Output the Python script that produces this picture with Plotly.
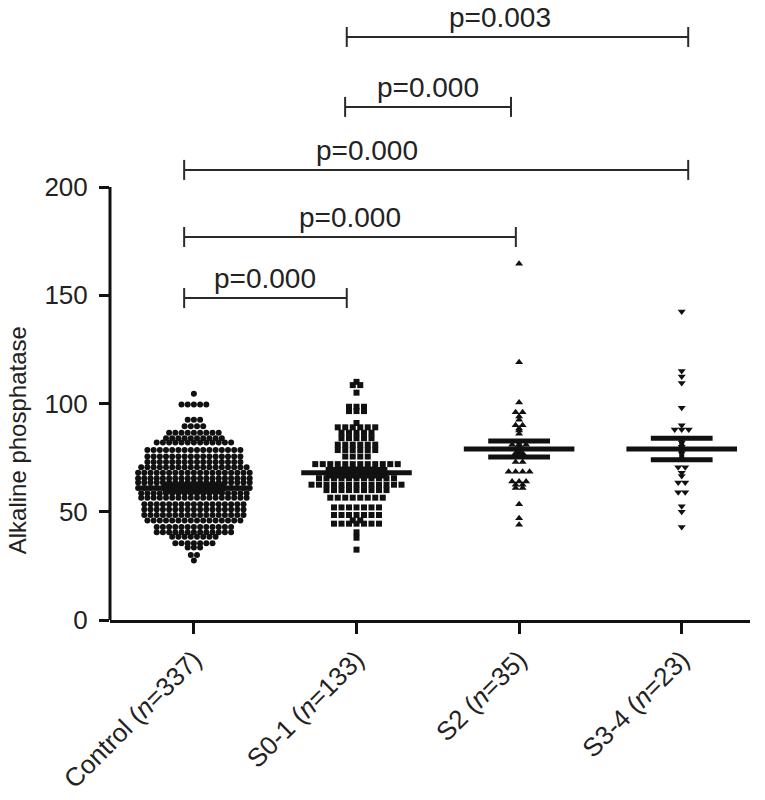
import plotly.graph_objects as go

# ---------------- data ----------------
categories = ["Control", "S0-1", "S2", "S3-4"]
tick_labels = ["Control (<i>n</i>=337)", "S0-1 (<i>n</i>=133)",
               "S2 (<i>n</i>=35)", "S3-4 (<i>n</i>=23)"]

# each group: value levels and how many points sit at that level
control_values = [104.5, 99.5, 92.5, 89.5, 86.5, 84, 82, 78.5, 75.5, 73, 70.5, 68, 65.5,
                  63.5, 61, 58.5, 56.5, 53.5, 51, 48.5, 46, 43, 40.5, 38.5, 35.5, 33.5, 30, 27.5]
control_counts = [1, 5, 3, 4, 9, 10, 13, 16, 16, 16, 18, 19, 19,
                  19, 19, 18, 18, 17, 17, 17, 16, 13, 13, 8, 7, 3, 2, 1]

s01_values = [110, 108.5, 105, 98.5, 96.5, 91, 89, 86.5, 84, 81, 78.5, 75.5, 72, 69.5, 67.5,
              65.5, 62.5, 60, 56.5, 52, 48.5, 46, 44.5, 40.5, 38, 32.5]
s01_counts = [1, 2, 1, 3, 3, 1, 6, 5, 5, 6, 6, 4, 12, 5, 6,
              11, 13, 9, 8, 7, 7, 2, 7, 1, 1, 1]

s2_values = [164.5, 119, 100.5, 96, 94, 92.5, 90, 88.5, 87.5, 86, 81, 79, 77, 73, 68.5,
             64, 62.5, 61, 53.5, 47, 44]
s2_counts = [1, 1, 1, 2, 1, 1, 2, 1, 1, 1, 3, 2, 2, 2, 4,
             3, 2, 2, 1, 1, 1]

s34_values = [142.5, 115, 112.5, 109.5, 98, 90, 88, 82, 80, 77, 70.5, 68, 66.5, 63.5, 59,
              52.5, 50, 43]
s34_counts = [1, 1, 1, 1, 1, 1, 3, 1, 1, 1, 2, 1, 1, 2, 2,
              1, 1, 1]

means = [61, 68, 79, 79]
ci_low = [59.5, 66.5, 75.3, 74]
ci_high = [62.5, 69.5, 82.7, 84]

# comparison brackets
bracket_x0 = [-0.06, -0.06, -0.06, 0.93, 0.94]
bracket_x1 = [0.94, 1.98, 3.04, 1.95, 3.04]
bracket_y = [148.7, 176.9, 207.9, 237, 269.3]
bracket_text_x = [0.44, 0.96, 1.065, 1.44, 1.88]
bracket_labels = ["p=0.000", "p=0.000", "p=0.000", "p=0.000", "p=0.003"]

# ---------------- layout helpers ----------------
FIG_W, FIG_H = 765, 800
M_L, M_R, M_T, M_B = 110, 15, 8, 180
X_RANGE = [-0.516, 3.42]
PLOT_W = FIG_W - M_L - M_R
PX_PER_UNIT_X = PLOT_W / (X_RANGE[1] - X_RANGE[0])
PLOT_H = FIG_H - M_T - M_B
PX_PER_UNIT_Y = 2.165
Y_RANGE = [0, PLOT_H / PX_PER_UNIT_Y]

groups = [
    (control_values, control_counts, "circle", 6, 6.2),
    (s01_values, s01_counts, "square", 6, 7.5),
    (s2_values, s2_counts, "triangle-up", 7, 7.0),
    (s34_values, s34_counts, "triangle-down", 7, 7.0),
]

fig = go.Figure()
INK = "#111111"

for gi, (vals, cnts, sym, size, spacing_px) in enumerate(groups):
    xs, ys = [], []
    step = spacing_px / PX_PER_UNIT_X
    for v, c in zip(vals, cnts):
        for k in range(c):
            xs.append(gi + (k - (c - 1) / 2) * step)
            ys.append(v)
    fig.add_trace(go.Scatter(
        x=xs, y=ys, mode="markers",
        marker=dict(symbol=sym, size=size, color=INK, line=dict(width=0)),
        showlegend=False, hoverinfo="y"))

# mean and 95% CI
MEAN_HALF = 0.34
CAP_HALF = 0.19
for gi in range(len(categories)):
    fig.add_trace(go.Scatter(
        x=[gi - MEAN_HALF, gi + MEAN_HALF], y=[means[gi], means[gi]], mode="lines",
        line=dict(color=INK, width=5), showlegend=False, hoverinfo="skip"))
    fig.add_trace(go.Scatter(
        x=[gi - CAP_HALF, gi + CAP_HALF, None, gi - CAP_HALF, gi + CAP_HALF, None, gi, gi],
        y=[ci_low[gi], ci_low[gi], None, ci_high[gi], ci_high[gi], None, ci_low[gi], ci_high[gi]],
        mode="lines", line=dict(color=INK, width=5), showlegend=False, hoverinfo="skip"))

shapes = []
# y-axis line only from 0 to 200
shapes.append(dict(type="line", xref="paper", yref="y", x0=0, x1=0, y0=0, y1=200,
                   line=dict(color=INK, width=3)))
TICK_H = 10 / PX_PER_UNIT_Y
BR_COLOR = "#2a2a2a"
annotations = []
for x0, x1, y, tx, lab in zip(bracket_x0, bracket_x1, bracket_y, bracket_text_x, bracket_labels):
    shapes.append(dict(type="line", xref="x", yref="y", x0=x0, x1=x1, y0=y, y1=y,
                       line=dict(color=BR_COLOR, width=2)))
    for xe in (x0, x1):
        shapes.append(dict(type="line", xref="x", yref="y", x0=xe, x1=xe,
                           y0=y - TICK_H, y1=y + TICK_H, line=dict(color=BR_COLOR, width=2)))
    annotations.append(dict(x=tx, y=y, xref="x", yref="y", text=lab, showarrow=False,
                            yanchor="bottom", yshift=2,
                            font=dict(size=28, color="#222222")))

annotations.append(dict(x=0, y=83, xref="paper", yref="y", text="Alkaline phosphatase",
                        textangle=-90, showarrow=False, xanchor="center", yanchor="middle",
                        xshift=-93, font=dict(size=24, color="#222222")))

fig.update_layout(
    width=FIG_W, height=FIG_H,
    margin=dict(l=M_L, r=M_R, t=M_T, b=M_B),
    paper_bgcolor="white", plot_bgcolor="white",
    font=dict(family="Liberation Sans, Arial, sans-serif", size=24, color="#222222"),
    shapes=shapes, annotations=annotations,
    xaxis=dict(range=X_RANGE, tickvals=list(range(len(categories))), ticktext=tick_labels,
               tickangle=-45, showline=True, linecolor=INK, linewidth=3,
               ticks="outside", ticklen=11, tickwidth=3, tickcolor=INK,
               showgrid=False, zeroline=False, automargin=False,
               tickfont=dict(size=26, color="#222222")),
    yaxis=dict(range=Y_RANGE, tickvals=[0, 50, 100, 150, 200], showline=False,
               ticks="outside", ticklen=10, tickwidth=3, tickcolor=INK,
               ticklabelstandoff=6,
               showgrid=False, zeroline=False, automargin=False,
               tickfont=dict(size=26, color="#222222")),
)

fig.write_html("out.html", config={"displayModeBar": False},
               post_script="document.body.style.margin='0px';")
